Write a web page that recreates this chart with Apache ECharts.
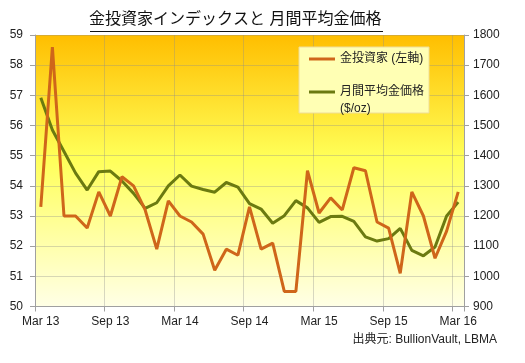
<!DOCTYPE html>
<html>
<head>
<meta charset="utf-8">
<script src="https://cdn.jsdelivr.net/npm/echarts@6/dist/echarts.min.js"></script>
<style>
html,body{margin:0;padding:0;background:#fff;}
#c{width:525px;height:363px;}
</style>
</head>
<body>
<div id="c"></div>
<script>
const months = ['Mar 13','Apr 13','May 13','Jun 13','Jul 13','Aug 13','Sep 13','Oct 13','Nov 13','Dec 13','Jan 14','Feb 14',
  'Mar 14','Apr 14','May 14','Jun 14','Jul 14','Aug 14','Sep 14','Oct 14','Nov 14','Dec 14','Jan 15','Feb 15',
  'Mar 15','Apr 15','May 15','Jun 15','Jul 15','Aug 15','Sep 15','Oct 15','Nov 15','Dec 15','Jan 16','Feb 16','Mar 16'];
const investorIndex = [53.3, 58.6, 53.0, 53.0, 52.6, 53.8, 53.0, 54.3, 54.0, 53.2, 51.9, 53.5,
  53.0, 52.8, 52.4, 51.2, 51.9, 51.7, 53.3, 51.9, 52.1, 50.5, 50.5, 54.5,
  53.1, 53.6, 53.2, 54.6, 54.5, 52.8, 52.6, 51.1, 53.8, 53.0, 51.6, 52.5, 53.8];
const goldPrice = [1592, 1485, 1414, 1342, 1286, 1347, 1349, 1316, 1275, 1225, 1244, 1300,
  1336, 1299, 1288, 1279, 1311, 1296, 1241, 1223, 1176, 1201, 1251, 1227,
  1179, 1198, 1199, 1182, 1131, 1117, 1125, 1159, 1086, 1068, 1097, 1200, 1246];
const seriesNames = ['金投資家 (左軸)', '月間平均金価格'];
const titleText = '金投資家インデックスと 月間平均金価格';
const sourceText = '出典元: BullionVault, LBMA';

const FONT = '"Liberation Sans", Arial, "Noto Sans CJK JP", sans-serif';
const chart = echarts.init(document.getElementById('c'), null, {renderer: 'canvas'});
const gridLine = {show: true, lineStyle: {color: 'rgba(140,140,140,0.35)', width: 1}};
const axisLineStyle = {show: true, lineStyle: {color: '#a0a0a0', width: 1}};
chart.setOption({
  animation: false,
  backgroundColor: '#ffffff',
  textStyle: {fontFamily: FONT},
  grid: {
    left: 35, right: 61, top: 35, bottom: 56.5,
    outerBoundsMode: 'none',
    show: true,
    borderWidth: 0,
    backgroundColor: new echarts.graphic.LinearGradient(0, 0, 0, 1, [
      {offset: 0, color: '#FFBE00'},
      {offset: 0.45, color: '#FFFF58'},
      {offset: 1, color: '#FFFFE6'}
    ])
  },
  legend: {
    orient: 'vertical',
    left: 299, top: 47,
    padding: [6, 5, 15, 10],
    itemGap: 21,
    itemWidth: 26, itemHeight: 3,
    icon: 'rect',
    backgroundColor: '#FFFFB4',
    borderColor: '#EEDC98',
    borderWidth: 1,
    textStyle: {fontFamily: FONT, fontSize: 12, color: '#222'},
    data: seriesNames
  },
  xAxis: {
    type: 'category',
    data: months,
    boundaryGap: true,
    axisLine: axisLineStyle,
    axisTick: {show: true, interval: 5, length: 5, alignWithLabel: false, lineStyle: {color: '#a0a0a0'}},
    axisLabel: {interval: 5, margin: 9, fontSize: 12, color: '#222', fontFamily: FONT},
    splitLine: {show: true, interval: 5, lineStyle: {color: 'rgba(140,140,140,0.35)'}}
  },
  yAxis: [
    {
      type: 'value', min: 50, max: 59, interval: 1, position: 'left',
      axisLine: axisLineStyle,
      axisTick: {show: true, length: 5, lineStyle: {color: '#a0a0a0'}},
      axisLabel: {margin: 12, fontSize: 12, color: '#222', fontFamily: FONT},
      splitLine: gridLine
    },
    {
      type: 'value', min: 900, max: 1800, interval: 100, position: 'right',
      axisLine: axisLineStyle,
      axisTick: {show: true, length: 5, lineStyle: {color: '#a0a0a0'}},
      axisLabel: {margin: 9, fontSize: 12, color: '#222', fontFamily: FONT, formatter: function (v) { return String(v); }},
      splitLine: {show: false}
    }
  ],
  series: [
    {
      name: seriesNames[0], type: 'line', yAxisIndex: 0, data: investorIndex,
      symbol: 'none', lineStyle: {color: '#CF661A', width: 3}, itemStyle: {color: '#CF661A'}, z: 3
    },
    {
      name: seriesNames[1], type: 'line', yAxisIndex: 1, data: goldPrice,
      symbol: 'none', lineStyle: {color: '#6B7A10', width: 3}, itemStyle: {color: '#6B7A10'}, z: 2
    }
  ],
  graphic: [
    {type: 'text', left: 236 - 147, top: 12, style: {text: titleText, font: '16px ' + FONT, fill: '#111'}},
    {type: 'line', shape: {x1: 90, y1: 31.5, x2: 383, y2: 31.5}, style: {stroke: '#111', lineWidth: 1}},
    {type: 'text', left: 340, top: 103, z: 100, style: {text: '($/oz)', font: '12px ' + FONT, fill: '#222'}},
    {type: 'text', right: 28, top: 334, style: {text: sourceText, font: '12px ' + FONT, fill: '#222'}}
  ]
});
</script>
</body>
</html>
